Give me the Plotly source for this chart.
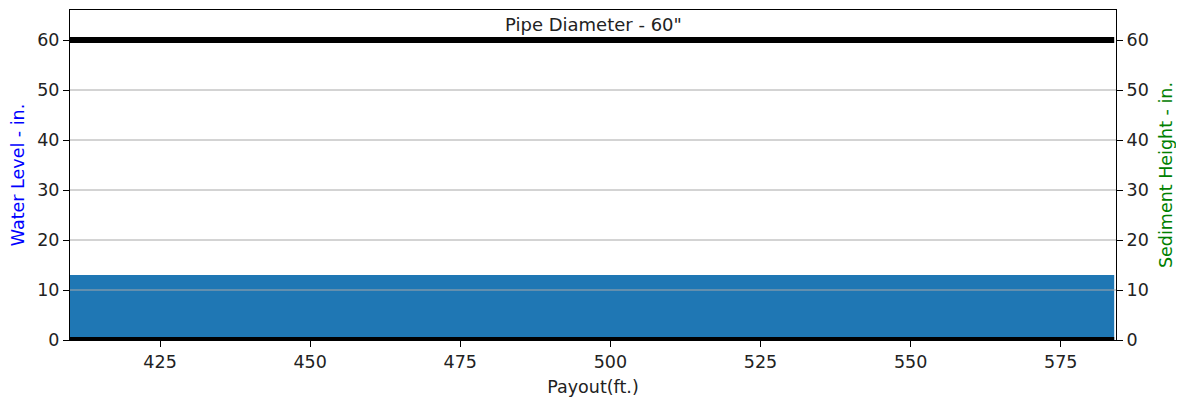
import plotly.graph_objects as go

payout = [410, 430, 450, 470, 490, 510, 530, 550, 570, 583.9]
water_level = [13, 13, 13, 13, 13, 13, 13, 13, 13, 13]
sediment = [0, 0, 0, 0, 0, 0, 0, 0, 0, 0]
pipe_top = [60, 60, 60, 60, 60, 60, 60, 60, 60, 60]
pipe_bottom = [0, 0, 0, 0, 0, 0, 0, 0, 0, 0]
y_ticks = [0, 10, 20, 30, 40, 50, 60]
x_ticks = [425, 450, 475, 500, 525, 550, 575]

FS = 17.5
fig = go.Figure()
fig.add_trace(go.Scatter(x=payout, y=water_level, mode="lines", fill="tozeroy",
                         fillcolor="#1f77b4", line=dict(width=0, color="#1f77b4"),
                         showlegend=False))
fig.add_trace(go.Scatter(x=payout, y=pipe_top, mode="lines",
                         line=dict(width=6, color="black"), showlegend=False))
fig.add_trace(go.Scatter(x=payout, y=pipe_bottom, mode="lines",
                         line=dict(width=6, color="black"), showlegend=False))
fig.add_trace(go.Scatter(x=payout, y=sediment, mode="lines", yaxis="y2",
                         line=dict(width=0, color="green"), showlegend=False))

# grid drawn above the fill, like matplotlib
for v in y_ticks[1:-1]:
    fig.add_shape(type="line", xref="paper", x0=0, x1=1, yref="y", y0=v, y1=v,
                  line=dict(color="#a8a8a8", width=1), layer="above")

font = dict(family="DejaVu Sans", size=FS, color="#222")
fig.update_layout(
    width=1184, height=401,
    margin=dict(l=62, r=76, t=2, b=69),
    plot_bgcolor="white", paper_bgcolor="white",
    font=font,
    xaxis=dict(range=[410, 584.2], tickvals=x_ticks,
               ticks="outside", ticklen=6, tickcolor="black", showgrid=False,
               showline=True, linecolor="black", linewidth=1, mirror=True,
               zeroline=False,
               title=dict(text="Payout(ft.)", font=dict(size=FS, color="#222"), standoff=9)),
    yaxis=dict(range=[0, 66], tickvals=y_ticks,
               ticks="outside", ticklen=6, tickcolor="black",
               showgrid=False,
               showline=True, linecolor="black", linewidth=1, zeroline=False,
               title=dict(text="Water Level - in.", font=dict(size=FS, color="blue"), standoff=11)),
    yaxis2=dict(range=[0, 66], tickvals=y_ticks,
                overlaying="y", side="right",
                ticks="outside", ticklen=6, tickcolor="black", showgrid=False,
                showline=True, linecolor="black", linewidth=1, zeroline=False,
                title=dict(text="Sediment Height - in.", font=dict(size=FS, color="green"), standoff=11)),
    annotations=[dict(text="Pipe Diameter - 60\"", x=0.5, y=1, xref="paper", yref="paper",
                      xanchor="center", yanchor="top", yshift=-2, showarrow=False,
                      font=dict(size=18, color="#222"))],
)
fig.write_html("out.html")
